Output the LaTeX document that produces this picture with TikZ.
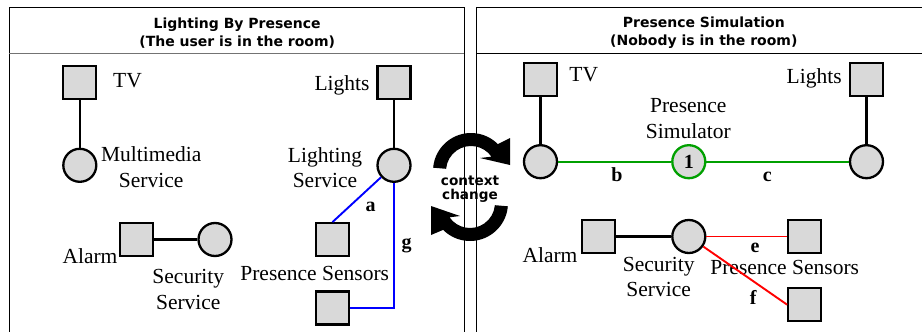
\documentclass[tikz,border=0pt]{standalone}
\usepackage{fontspec}
\setmainfont{Liberation Serif}
\newfontfamily\vsans{DejaVu Sans}
\definecolor{simgreen}{RGB}{0,160,0}
\newcommand\lbfont{\fontsize{21.5pt}{25.6pt}\selectfont}
\newcommand\tgfont{\fontsize{20pt}{24pt}\selectfont\bfseries}
\newcommand\hdfont{\vsans\bfseries\fontsize{14pt}{17.7pt}\selectfont}
\newcommand\ccfont{\vsans\bfseries\fontsize{13.6pt}{13.6pt}\selectfont}
\begin{document}
\begin{tikzpicture}[
    x=1pt,y=-1pt,
    dev/.style={draw,rectangle,minimum size=33pt,inner sep=0pt,fill=gray!30,line width=2.3pt},
    svc/.style={draw,circle,minimum size=33pt,inner sep=0pt,fill=gray!30,line width=2.3pt},
    simc/.style={svc,draw=simgreen,font=\tgfont},
    lbl/.style={font=\lbfont,align=center,inner sep=0pt},
    tag/.style={font=\tgfont,inner sep=0pt},
    hd/.style={font=\hdfont,align=center,inner sep=0pt},
    ed/.style={draw,line width=2.2pt},
    bl/.style={draw,blue,line width=1.9pt},
    gr/.style={draw,simgreen,line width=1.9pt},
    rd/.style={draw,red,line width=1.9pt}
  ]
  \useasboundingbox (0,0) rectangle (922,332);
  \clip (0,0) rectangle (922,332);
  %% panels
  \draw[line width=1.1pt] (9.3,7.3) rectangle (464.3,345);
  \draw[black!55,line width=1.1pt] (9.3,53.3) -- (464.3,53.3);
  \draw[line width=1.1pt] (476.7,7.3) rectangle (931,345);
  \draw[line width=1.1pt] (476.7,53.3) -- (931,53.3);
  \node[hd] (h1) at (237.2,32.9) {Lighting By Presence\\(The user is in the room)};
  \node[hd] (h2) at (703.8,32.9) {Presence Simulation\\(Nobody is in the room)};
  %% context change arrows
  \fill (471,171) ++(-175:38) arc[start angle=-175,end angle=-45,radius=38]
    -- (510,138) -- (510,165) -- (480,158) -- (491.48,156.66)
    arc[start angle=-35,end angle=-175,radius=25] -- cycle;
  \fill (470,203) ++(5:38) arc[start angle=5,end angle=135,radius=38]
    -- (431,235) -- (431,206) -- (460,216) -- (449.52,217.34)
    arc[start angle=145,end angle=5,radius=25] -- cycle;
  \node[font=\ccfont,align=center,inner sep=0pt] (cc) at (470,189.4) {context\\change};
  %% lighting by presence
  \node[dev] (tv1) at (79.8,82.8) {};
  \node[svc] (ms1) at (79.8,165.3) {};
  \node[dev] (li1) at (394,82.8) {};
  \node[svc] (ls1) at (394,165.3) {};
  \node[dev] (al1) at (136.5,239.5) {};
  \node[svc] (ss1) at (215,239.5) {};
  \node[dev] (ps1) at (332.5,239.7) {};
  \node[dev] (ps2) at (332.5,308) {};
  \node[lbl] (tv1l) at (127.5,81) {TV};
  \node[lbl] (ms1l) at (151.2,167.2) {Multimedia\\Service};
  \node[lbl] (li1l) at (342,85) {Lights};
  \node[lbl] (ls1l) at (325,167.5) {Lighting\\Service};
  \node[lbl] (al1l) at (90,256) {Alarm};
  \node[lbl] (ss1l) at (188.3,289.7) {Security\\Service};
  \node[lbl] (ps1l) at (314.7,273.6) {Presence Sensors};
  \node[tag] (ta) at (370.7,206.7) {a};
  \node[tag] (tg) at (406.7,245.8) {g};
  %% presence simulation
  \node[dev]  (tv2) at (540.5,79.5) {};
  \node[svc]  (tc2) at (540.5,161.7) {};
  \node[simc] (sim) at (688.8,161.7) {1};
  \node[dev]  (lt2) at (866.5,79.5) {};
  \node[svc]  (lc2) at (866.5,161.7) {};
  \node[dev]  (al2) at (598.7,236.5) {};
  \node[svc]  (ss2) at (688.8,236.5) {};
  \node[dev]  (ps3) at (804.8,236.5) {};
  \node[dev]  (ps4) at (804.8,304.7) {};
  \node[lbl] (tv2l) at (583.8,74.2) {TV};
  \node[lbl] (siml) at (688.3,118.7) {Presence\\Simulator};
  \node[lbl] (lt2l) at (814.2,78.3) {Lights};
  \node[lbl] (al2l) at (550,255.4) {Alarm};
  \node[lbl] (ss2l) at (658.7,276.9) {Security\\Service};
  \node[lbl] (ps3l) at (784.7,267.9) {Presence Sensors};
  \node[tag] (tb) at (617,175) {b};
  \node[tag] (tc) at (767.3,176.7) {c};
  \node[tag] (te) at (755,247.5) {e};
  \node[tag] (tf) at (753.3,297.5) {f};
  %% connectors
  \foreach \p/\c in {tv1/ms1,li1/ls1,al1/ss1,tv2/tc2,lt2/lc2,al2/ss2}
    \draw[ed] (\p) -- (\c);
  \draw[bl] (ls1) -- (ps1.north);
  \draw[bl] (ls1.south) |- (ps2.east);
  \foreach \p/\c in {tc2/sim,sim/lc2}
    \draw[gr] (\p) -- (\c);
  \draw[rd] (ss2) -- (ps3);
  \draw[rd] (ss2) -- (ps4.west);
\end{tikzpicture}
\end{document}
